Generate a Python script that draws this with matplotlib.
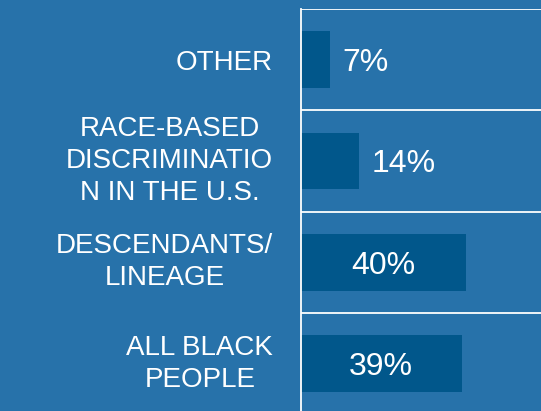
import matplotlib
matplotlib.use('Agg')
import matplotlib.pyplot as plt

# données
categories = ['OTHER', 'RACE-BASED\nDISCRIMINATIO\nN IN THE U.S.', 'DESCENDANTS/\nLINEAGE', 'ALL BLACK\nPEOPLE']
values = [7, 14, 40, 39]

bg = '#2772AA'
bar_color = '#01578B'

plt.rcParams['font.family'] = ['Liberation Sans', 'DejaVu Sans']

fig = plt.figure(figsize=(5.41, 4.11), dpi=100)
fig.patch.set_facecolor(bg)
ax = fig.add_axes([301 / 541, 0, 240 / 541, 402 / 411])
ax.set_facecolor(bg)

pos = list(range(len(categories)))
ax.barh(pos, values, height=0.56, color=bar_color)

ax.set_xlim(0, 58.3)
ax.set_ylim(3.468, -0.5)

# lignes de séparation
for b in [-0.5, 0.5, 1.5, 2.5, 3.5]:
    ax.axhline(b, color='white', lw=1.3)
for s in ['top', 'right', 'bottom']:
    ax.spines[s].set_visible(False)
ax.spines['left'].set_color('white')
ax.spines['left'].set_linewidth(1.3)

ax.set_xticks([])
ax.set_yticks(pos)
ax.set_yticklabels(categories)
ax.tick_params(axis='y', length=0, pad=20, labelsize=20, labelcolor='white')
for lab in ax.get_yticklabels():
    lab.set_multialignment('center')
    lab.set_linespacing(1.3)
    lab.set_va('center' if '\n' in lab.get_text() else 'center_baseline')

# étiquettes des valeurs
for i, v in enumerate(values):
    if v > 20:
        ax.text(v / 2, i, f'{v}%', ha='center', va='center_baseline',
                color='white', fontsize=23)
    else:
        ax.annotate(f'{v}%', (v, i), xytext=(9, 0), textcoords='offset points',
                    ha='left', va='center_baseline', color='white', fontsize=23)

fig.savefig('out.png', dpi=100, facecolor=bg)
